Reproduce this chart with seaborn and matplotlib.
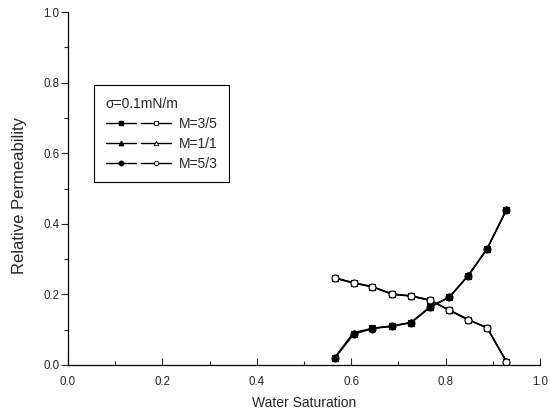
import matplotlib
matplotlib.use("Agg")
import matplotlib.pyplot as plt
import seaborn as sns
import pandas as pd
from matplotlib.lines import Line2D
from matplotlib.legend_handler import HandlerTuple
from matplotlib.ticker import MultipleLocator

sw = [0.565, 0.605, 0.645, 0.687, 0.727, 0.767, 0.808, 0.848, 0.888, 0.929]
krw_35 = [0.019, 0.087, 0.104, 0.110, 0.120, 0.164, 0.193, 0.253, 0.329, 0.440]
kro_35 = [0.247, 0.233, 0.222, 0.201, 0.196, 0.184, 0.155, 0.128, 0.105, 0.009]
krw_11 = [0.021, 0.092, 0.104, 0.111, 0.121, 0.165, 0.192, 0.254, 0.330, 0.441]
kro_11 = [0.246, 0.232, 0.221, 0.200, 0.195, 0.183, 0.156, 0.129, 0.106, 0.010]
krw_53 = [0.020, 0.088, 0.103, 0.110, 0.120, 0.163, 0.192, 0.253, 0.329, 0.440]
kro_53 = [0.247, 0.233, 0.222, 0.201, 0.196, 0.184, 0.155, 0.128, 0.105, 0.009]
labels = ["M=3/5", "M=1/1", "M=5/3"]
markers = ["s", "^", "o"]
legend_title = "σ=0.1mN/m"
xticks = [0.0, 0.2, 0.4, 0.6, 0.8, 1.0]
yticks = [0.0, 0.2, 0.4, 0.6, 0.8, 1.0]

sns.set_style("ticks")
plt.rcParams["font.family"] = ["Liberation Sans", "DejaVu Sans"]

fig = plt.figure(figsize=(5.5, 4.2), dpi=100)
ax = fig.add_axes([0.1236, 0.131, 0.8582, 0.840])

series = [(krw_35, kro_35), (krw_11, kro_11), (krw_53, kro_53)]
handles = []
for (krw, kro), lab, mk in zip(series, labels, markers):
    df = pd.DataFrame({"Sw": sw, "krw": krw, "kro": kro})
    sns.lineplot(data=df, x="Sw", y="krw", ax=ax, color="black", lw=1,
                 marker=mk, markersize=5, markerfacecolor="black",
                 markeredgecolor="black", markeredgewidth=0.8)
    sns.lineplot(data=df, x="Sw", y="kro", ax=ax, color="black", lw=1,
                 marker=mk, markersize=5, markerfacecolor="white",
                 markeredgecolor="black", markeredgewidth=0.8)
    h1 = Line2D([], [], color="black", lw=1, marker=mk, markersize=3.2,
                markerfacecolor="black", markeredgecolor="black")
    h2 = Line2D([], [], color="black", lw=1, marker=mk, markersize=3.2,
                markerfacecolor="white", markeredgecolor="black", markeredgewidth=0.6)
    handles.append((h1, h2))

ax.set_xlim(0, 1.0)
ax.set_ylim(0, 1.0)
ax.set_xticks(xticks)
ax.set_yticks(yticks)
ax.xaxis.set_minor_locator(MultipleLocator(0.1))
ax.yaxis.set_minor_locator(MultipleLocator(0.1))
ax.set_xticklabels([f"{v:.1f}" for v in xticks])
ax.set_yticklabels([f"{v:.1f}" for v in yticks])
ax.tick_params(axis="x", which="major", direction="in", length=5, width=0.8, labelsize=8.3, pad=8)
ax.tick_params(axis="x", which="minor", direction="in", length=3, width=0.8)
ax.tick_params(axis="y", which="major", direction="out", length=5, width=0.8, labelsize=8.3, pad=1)
ax.tick_params(axis="y", which="minor", direction="out", length=3, width=0.8)
for s in ["left", "bottom"]:
    ax.spines[s].set_linewidth(0.9)
    ax.spines[s].set_color("black")
sns.despine(ax=ax)

ax.set_xlabel("Water Saturation", fontsize=10, va="top")
ax.xaxis.set_label_coords(0.5, -0.088)
ax.set_ylabel("Relative Permeability", fontsize=12)
ax.yaxis.set_label_coords(-0.087, 0.48)

leg = ax.legend(handles, labels, title=legend_title, loc="upper left",
                bbox_to_anchor=(0.055, 0.793), borderaxespad=0,
                handler_map={tuple: HandlerTuple(ndivide=None, pad=0.36)},
                handlelength=4.7, fontsize=10, title_fontsize=10,
                frameon=True, fancybox=False, edgecolor="black",
                framealpha=1, labelspacing=0.42, handletextpad=0.55,
                borderpad=0.85)
leg.get_frame().set_linewidth(0.8)
leg._legend_box.align = "left"

fig.savefig("out.png", dpi=100)
